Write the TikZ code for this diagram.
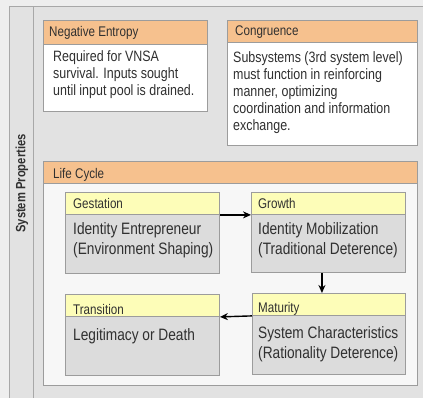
\documentclass[tikz,border=0pt]{standalone}
\usepackage{fontspec}
\setmainfont{Liberation Sans}[FakeStretch=0.83]
\usetikzlibrary{arrows.meta}
\definecolor{bgpage}{HTML}{EEEEEE}
\definecolor{bgmain}{HTML}{E2E2E2}
\definecolor{frame}{HTML}{A8A8A8}
\definecolor{boxline}{HTML}{9C9C9C}
\definecolor{orangehdr}{HTML}{F6C18E}
\definecolor{yellowhdr}{HTML}{FDFDB8}
\definecolor{graybody}{HTML}{DCDCDC}
\definecolor{txt}{HTML}{303030}
\newcommand{\mylines}[1]{\begin{tabular}[t]{@{}l@{}}#1\end{tabular}}
\tikzset{
  box/.style={draw=boxline, line width=0.9pt, inner sep=0pt, anchor=north west},
  whitebox/.style={box, fill=white},
  lcbox/.style={box, fill=white!97!black},
  graybox/.style={box, fill=graybody},
  ohdr/.style={box, fill=orangehdr},
  yhdr/.style={box, fill=yellowhdr},
  hdrtxt/.style={anchor=base west, inner sep=0pt, text=txt, font=\fontsize{14}{16}\selectfont},
  smalltxt/.style={anchor=base west, inner sep=0pt, text=txt, font=\fontsize{15}{17}\selectfont},
  bigtxt/.style={anchor=base west, inner sep=0pt, text=txt, font=\fontsize{16.5}{20}\selectfont},
  arr/.style={line width=1.4pt, black, -{Stealth[length=8pt,width=7pt]}},
}
\begin{document}
\begin{tikzpicture}[x=1pt,y=-1pt]
\useasboundingbox (0,0) rectangle (423,398);
\fill[bgpage] (0,0) rectangle (423,398);
% outer frame
\node[box, draw=frame, fill=bgmain, minimum width=420, minimum height=400] (outer) at (9,6) {};
\node[box, draw=frame, fill=bgmain, minimum width=24, minimum height=400] (strip) at (9,6) {};
\node[rotate=90, inner sep=0pt, text=txt, font=\fontsize{13.5}{15}\selectfont\bfseries] (sp) at (22,183.5) {System Properties};
% Negative Entropy
\node[whitebox, minimum width=164, minimum height=91] (ne) at (43,20) {};
\node[ohdr, minimum width=164, minimum height=24] (neh) at (43,20) {};
\node[hdrtxt] (net) at (49,37) {Negative Entropy};
\node[smalltxt] (neb) at (53,62) {\mylines{Required for VNSA\\survival. Inputs sought\\until input pool is drained.}};
% Congruence
\node[whitebox, minimum width=190, minimum height=125] (co) at (227,20) {};
\node[ohdr, minimum width=190, minimum height=22] (coh) at (227,20) {};
\node[hdrtxt] (cot) at (235,36) {Congruence};
\node[smalltxt] (cob) at (233,63) {\mylines{Subsystems (3rd system level)\\must function in reinforcing\\manner, optimizing\\coordination and information\\exchange.}};
% Life Cycle
\node[lcbox, minimum width=374, minimum height=224] (lc) at (43,161) {};
\node[ohdr, minimum width=374, minimum height=22] (lch) at (43,161) {};
\node[hdrtxt] (lct) at (53,179) {Life Cycle};
% Gestation
\node[graybox, minimum width=154, minimum height=81] (ges) at (65,192) {};
\node[yhdr, minimum width=154, minimum height=22] (gesh) at (65,192) {};
\node[hdrtxt] (gest) at (73,209) {Gestation};
\node[bigtxt] (gesb) at (73,235) {\mylines{Identity Entrepreneur\\(Environment Shaping)}};
% Growth
\node[graybox, minimum width=154, minimum height=80] (gro) at (251,192) {};
\node[yhdr, minimum width=154, minimum height=22] (groh) at (251,192) {};
\node[hdrtxt] (grot) at (258,209) {Growth};
\node[bigtxt] (grob) at (258,235) {\mylines{Identity Mobilization\\(Traditional Deterence)}};
% Transition
\node[graybox, minimum width=154, minimum height=81] (tra) at (65,294) {};
\node[yhdr, minimum width=154, minimum height=22] (trah) at (65,294) {};
\node[hdrtxt] (trat) at (73,314) {Transition};
\node[bigtxt] (trab) at (73,340) {Legitimacy or Death};
% Maturity
\node[graybox, minimum width=153, minimum height=81] (mat) at (252,293) {};
\node[yhdr, minimum width=153, minimum height=22] (math) at (252,293) {};
\node[hdrtxt] (matt) at (258,312) {Maturity};
\node[bigtxt] (matb) at (258,338) {\mylines{System Characteristics\\(Rationality Deterence)}};
% arrows
\draw[arr] (gesh.south east) -- (groh.south west);
\draw[arr] ([xshift=-6.5pt]gro.south) -- ([xshift=-6.5pt]gro.south |- math.north);
\draw[arr] (math.south west) -- (trah.south east);
\end{tikzpicture}
\end{document}
